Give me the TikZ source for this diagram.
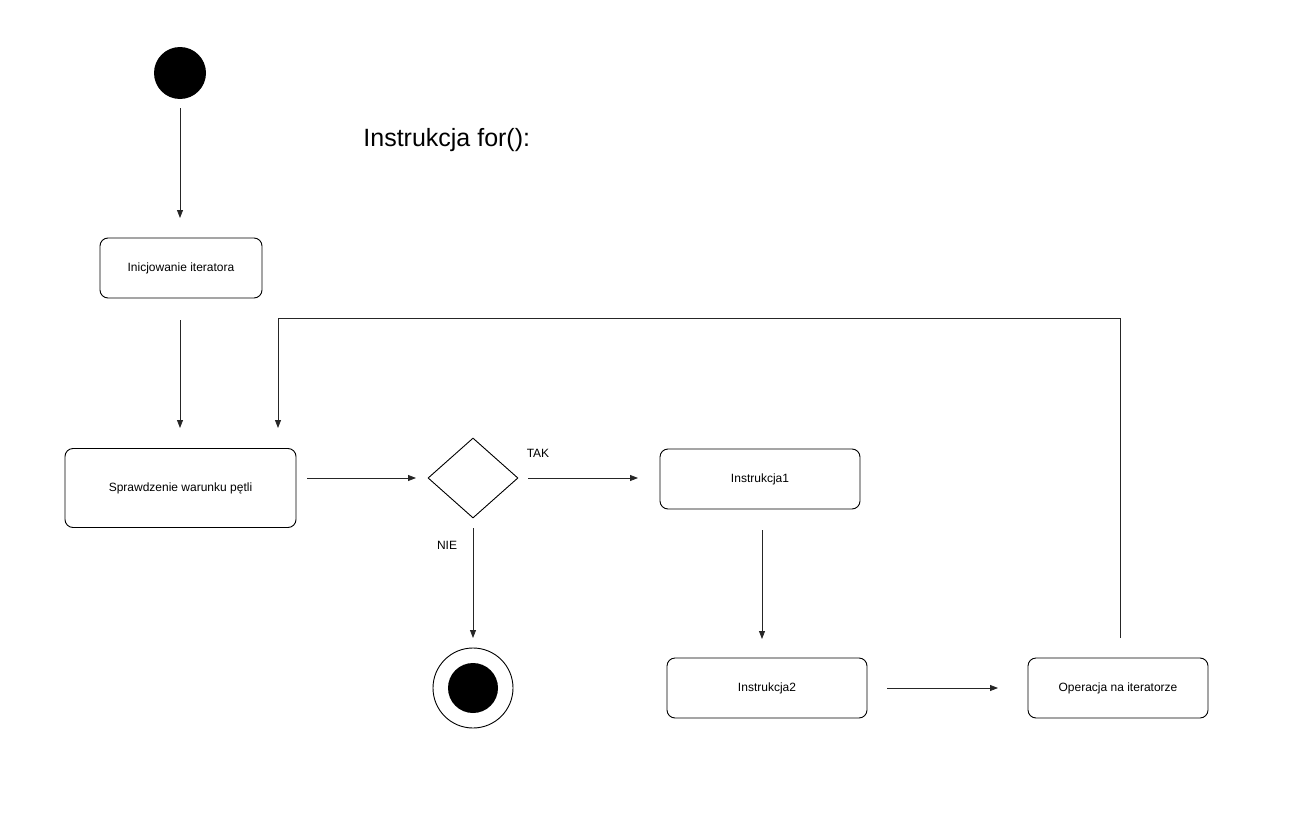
\documentclass[tikz,border=0pt]{standalone}
\usepackage{fontspec}
\setmainfont{Liberation Sans}
\usetikzlibrary{shapes.geometric,arrows.meta}
\begin{document}
\begin{tikzpicture}[x=1pt,y=-1pt,
  act/.style={draw, rounded corners=8pt, line width=0.9pt, font=\fontsize{12}{14}\selectfont, inner sep=0pt},
  arr/.style={-{Triangle[length=8pt,width=6pt]}, line width=0.8pt, draw=black!85},
  lbl/.style={font=\fontsize{12}{14}\selectfont, inner sep=0pt},
  line width=0.8pt]
\useasboundingbox (0,0) rectangle (1299,819);
\node[circle, fill=black, minimum size=52pt, inner sep=0pt] (start) at (180,73) {};
\node[act, minimum width=162pt, minimum height=60pt] (init) at (181,268) {Inicjowanie iteratora};
\node[act, minimum width=231pt, minimum height=79pt] (check) at (180.5,488) {Sprawdzenie warunku pętli};
\node[draw, diamond, aspect=1.125, minimum width=90pt, minimum height=80pt, inner sep=0pt, line width=0.9pt] (dec) at (473,478) {};
\node[act, minimum width=200pt, minimum height=60pt] (i1) at (760,479) {Instrukcja1};
\node[act, minimum width=200pt, minimum height=60pt] (i2) at (767,688) {Instrukcja2};
\node[act, minimum width=180pt, minimum height=60pt] (op) at (1118,688) {Operacja na iteratorze};
\node[circle, draw, minimum size=80pt, inner sep=0pt, line width=0.9pt] (endo) at (473,688) {};
\node[circle, fill=black, minimum size=50pt, inner sep=0pt] (endi) at (473,688) {};
\node[font=\fontsize{25}{30}\selectfont, anchor=west, inner sep=0pt] (title) at (363,140) {Instrukcja for():};
\node[lbl] (tak) at (538,453) {TAK};
\node[lbl] (nie) at (447,545) {NIE};
% connectors
\coordinate (a1s) at (180,108); \coordinate (a1e) at (180,218);
\draw[arr] (a1s) -- (a1e);
\coordinate (a2s) at (180,320); \coordinate (a2e) at (180,428);
\draw[arr] (a2s) -- (a2e);
\coordinate (a3s) at (307,478); \coordinate (a3e) at (416,478);
\draw[arr] (a3s) -- (a3e);
\coordinate (a4s) at (528,478); \coordinate (a4e) at (638,478);
\draw[arr] (a4s) -- (a4e);
\coordinate (a5s) at (473,528); \coordinate (a5e) at (473,638);
\draw[arr] (a5s) -- (a5e);
\coordinate (a6s) at (762,530); \coordinate (a6e) at (762,639);
\draw[arr] (a6s) -- (a6e);
\coordinate (a7s) at (887,688); \coordinate (a7e) at (998,688);
\draw[arr] (a7s) -- (a7e);
\coordinate (l1) at (1120,638); \coordinate (l2) at (1120,318); \coordinate (l3) at (278,318); \coordinate (l4) at (278,428);
\draw[arr] (l1) -- (l2) -- (l3) -- (l4);
\end{tikzpicture}
\end{document}
